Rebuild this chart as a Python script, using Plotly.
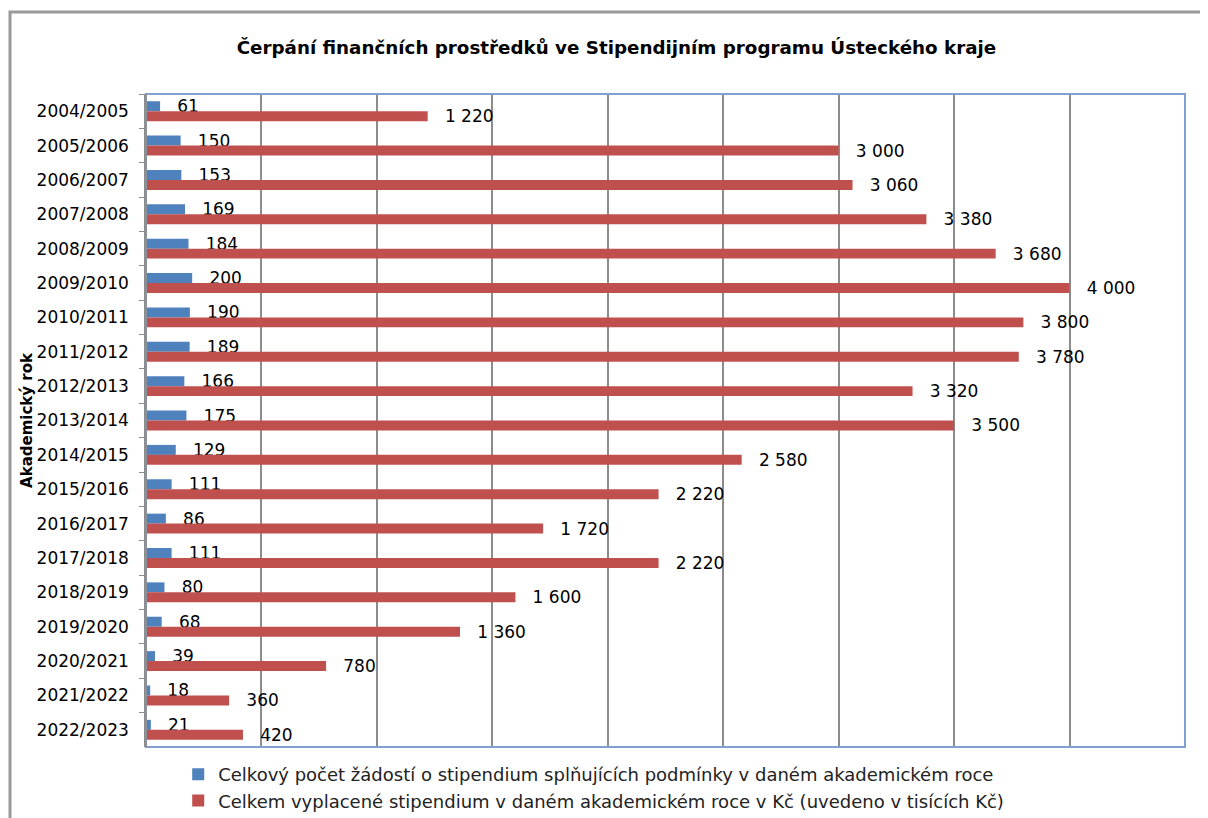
import plotly.graph_objects as go

years = ["2004/2005", "2005/2006", "2006/2007", "2007/2008", "2008/2009", "2009/2010",
         "2010/2011", "2011/2012", "2012/2013", "2013/2014", "2014/2015", "2015/2016",
         "2016/2017", "2017/2018", "2018/2019", "2019/2020", "2020/2021", "2021/2022",
         "2022/2023"]
applications = [61, 150, 153, 169, 184, 200, 190, 189, 166, 175, 129, 111, 86, 111, 80, 68, 39, 18, 21]
paid_thousands = [1220, 3000, 3060, 3380, 3680, 4000, 3800, 3780, 3320, 3500, 2580, 2220,
                  1720, 2220, 1600, 1360, 780, 360, 420]

name_apps = "Celkový počet žádostí o stipendium splňujících podmínky v daném akademickém roce"
name_paid = "Celkem vyplacené stipendium v daném akademickém roce v Kč (uvedeno v tisících Kč)"
title = "Čerpání finančních prostředků ve Stipendijním programu Ústeckého kraje"

FONT = "DejaVu Sans"
pad = "\u00a0\u00a0\u2009"

def fmt(v):
    return f"{v:,}".replace(",", " ")

# figure is placed at (8, 8) in the page by the default body margin
W, H = 1200, 810
L, R, T, B = 138, 23, 86, 71
PW, PH = W - L - R, H - T - B

fig = go.Figure()
fig.add_trace(go.Bar(
    y=years, x=applications, orientation="h", name=name_apps,
    marker=dict(color="#4F81BD", line=dict(width=0)),
    text=[pad + fmt(v) for v in applications], textposition="outside",
    constraintext="none", cliponaxis=False,
    textfont=dict(family=FONT, size=17, color="#000000"),
))
fig.add_trace(go.Bar(
    y=years, x=paid_thousands, orientation="h", name=name_paid,
    marker=dict(color="#C0504D", line=dict(width=0)),
    text=[pad + fmt(v) for v in paid_thousands], textposition="outside",
    constraintext="none", cliponaxis=False,
    textfont=dict(family=FONT, size=17, color="#000000"),
))

fig.update_layout(
    width=W, height=H,
    margin=dict(l=L, r=R, t=T, b=B, autoexpand=False),
    paper_bgcolor="white", plot_bgcolor="white",
    barmode="group", bargap=0.42, bargroupgap=0,
    font=dict(family=FONT, size=17, color="#000000"),
    title=dict(text="<b>" + title + "</b>", xref="container", x=0.507, xanchor="center",
               yref="container", y=1 - 40 / H, yanchor="middle",
               font=dict(family=FONT, size=18.3, color="#000000")),
    showlegend=True,
    legend=dict(orientation="v", x=0.031, xanchor="left",
                yref="container", y=1 - 748 / H, yanchor="top",
                traceorder="normal", font=dict(family=FONT, size=18, color="#222222"),
                bgcolor="rgba(0,0,0,0)", itemsizing="constant", tracegroupgap=0),
)
fig.update_xaxes(range=[0, 4500], dtick=500, showticklabels=False, showgrid=True,
                 gridcolor="#8C8C8C", gridwidth=1.5, zeroline=False, showline=False, ticks="")
fig.update_yaxes(autorange="reversed", showgrid=False, showline=True, linecolor="#8C8C8C",
                 linewidth=1.5, ticks="outside", tickson="boundaries", ticklen=5,
                 tickcolor="#8C8C8C", ticklabelstandoff=12,
                 tickfont=dict(family=FONT, size=17, color="#000000"),
                 title=dict(text="<b>Akademický rok</b>", standoff=0,
                            font=dict(family=FONT, size=15, color="#000000")))

# plot-area frame (blue) and outer chart frame (grey)
fig.add_shape(type="rect", xref="paper", yref="paper", x0=0, x1=1, y0=0, y1=1,
              line=dict(color="#7FA0D0", width=2), layer="above")
fig.add_shape(type="line", xref="paper", yref="paper", x0=0, x1=0, y0=0, y1=1,
              line=dict(color="#8C8C8C", width=1.5), layer="above")
fig.add_shape(type="rect", xref="paper", yref="paper",
              x0=-136 / PW, x1=1.05, y0=-0.2, y1=1 + 82 / PH,
              line=dict(color="#9A9A9A", width=3), layer="below")

fig.write_html("out.html")
